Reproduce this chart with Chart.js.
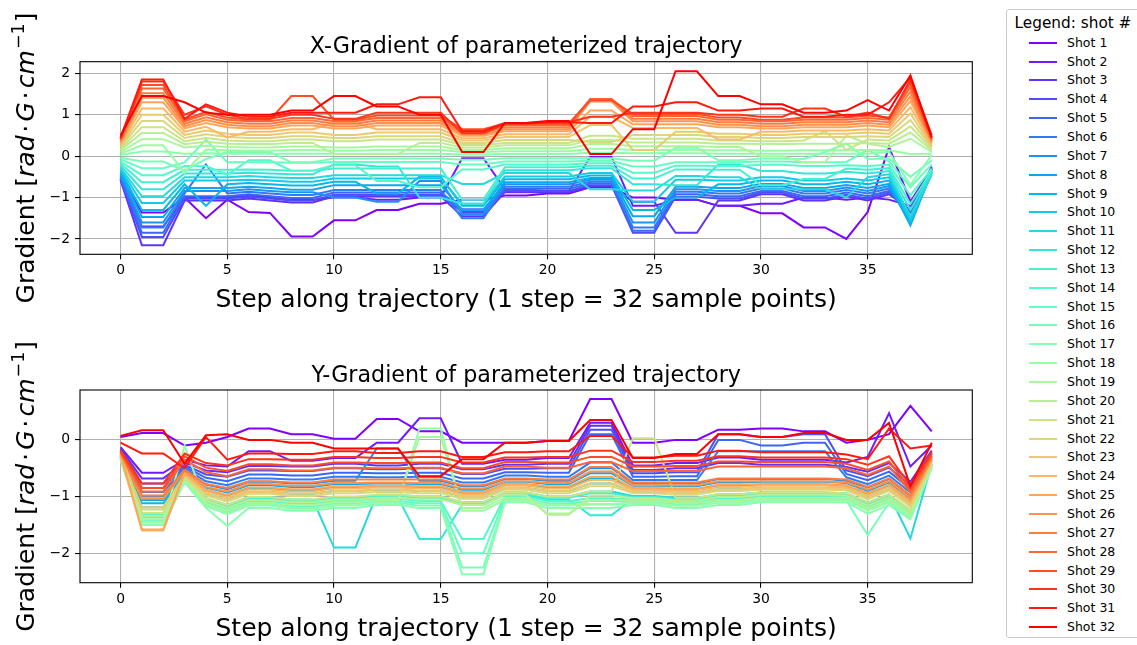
<!DOCTYPE html>
<html>
<head>
<meta charset="utf-8">
<script src="https://cdn.jsdelivr.net/npm/chart.js@4.4.1/dist/chart.umd.min.js"></script>
<style>
  html, body { margin: 0; padding: 0; background: #fff; }
  body { width: 1137px; height: 645px; position: relative; overflow: hidden; font-family: "DejaVu Sans", sans-serif; }
  canvas.plot { position: absolute; left: 0; }
  #legendBox { position: absolute; left: 1006px; top: 9px; width: 134px; height: 629px; box-sizing: border-box;
    border: 1px solid #cccccc; border-radius: 3px; background: #fff; }
  .lgTitle { position: absolute; left: 1006px; width: 134px; top: 13px; height: 20px; line-height: 20px;
    text-align: center; font-size: 15.3px; color: #000; white-space: nowrap; }
  .lgLine { position: absolute; left: 1029px; width: 28px; height: 2px; }
  .lgText { position: absolute; left: 1067px; height: 14px; line-height: 14px; font-size: 12.5px; color: #000; white-space: nowrap; }
</style>
</head>
<body>
<canvas id="gx" class="plot" width="1000" height="322" style="top:0px"></canvas>
<canvas id="gy" class="plot" width="1000" height="323" style="top:322px"></canvas>
<div id="legendBox"></div>
<div id="legend"></div>
<script>
// step index along the trajectory
const steps = [0, 1, 2, 3, 4, 5, 6, 7, 8, 9, 10, 11, 12, 13, 14, 15, 16, 17, 18, 19,
  20, 21, 22, 23, 24, 25, 26, 27, 28, 29, 30, 31, 32, 33, 34, 35, 36, 37, 38]

const shotLabels = ['Shot 1', 'Shot 2', 'Shot 3', 'Shot 4', 'Shot 5', 'Shot 6', 'Shot 7', 'Shot 8',
  'Shot 9', 'Shot 10', 'Shot 11', 'Shot 12', 'Shot 13', 'Shot 14', 'Shot 15', 'Shot 16',
  'Shot 17', 'Shot 18', 'Shot 19', 'Shot 20', 'Shot 21', 'Shot 22', 'Shot 23', 'Shot 24',
  'Shot 25', 'Shot 26', 'Shot 27', 'Shot 28', 'Shot 29', 'Shot 30', 'Shot 31', 'Shot 32']

const xTicks = [0, 5, 10, 15, 20, 25, 30, 35]
const gxTicks = [-2, -1, 0, 1, 2]
const gyTicks = [-2, -1, 0]

// X-gradient, one array per shot
const gx01 = [-0.5, -1.36, -1.36, -1.0, -1.5, -1.05, -1.35, -1.37, -1.94, -1.94, -1.55, -1.55, -1.3, -1.3, -1.15, -1.15, -1.05, -1.05, -0.95, -0.95, -0.9, -0.9, -0.75, -0.75, -1.0, -1.0, -1.05, -1.05, -1.2, -1.2, -1.38, -1.38, -1.72, -1.72, -2.0, -1.35, 0.22, -1.1, -0.3]
const gx02 = [-0.55, -1.7, -1.7, -1.0, -1.0, -1.0, -0.95, -1.0, -1.05, -1.05, -1.0, -1.0, -1.05, -1.05, -1.0, -1.0, -0.05, -0.05, -0.8, -0.8, -0.85, -0.85, -0.02, -0.02, -1.2, -1.2, -1.05, -1.05, -1.2, -1.2, -1.15, -1.15, -1.0, -1.0, -1.05, -1.0, -1.05, -1.2, -0.3]
const gx03 = [-0.58, -2.15, -2.15, -1.07, -1.07, -1.07, -1.02, -1.07, -1.12, -1.12, -0.97, -0.97, -0.97, -0.97, -0.97, -0.97, -1.45, -1.45, -0.87, -0.87, -0.87, -0.87, -0.73, -0.73, -1.1, -1.1, -1.85, -1.85, -1.07, -1.07, -0.92, -0.92, -1.07, -1.07, -0.97, -1.07, -0.92, -1.3, -0.25]
const gx04 = [-0.56, -1.95, -1.95, -1.02, -1.02, -1.02, -0.98, -1.02, -1.07, -1.07, -0.93, -0.93, -0.93, -0.93, -0.93, -0.93, -1.35, -1.35, -0.84, -0.84, -0.84, -0.84, -0.7, -0.7, -1.85, -1.85, -0.98, -0.98, -1.02, -1.02, -0.88, -0.88, -1.02, -1.02, -0.93, -1.02, -0.88, -1.35, -0.28]
const gx05 = [-0.53, -1.85, -1.85, -0.97, -0.97, -0.97, -0.92, -0.97, -1.01, -1.01, -0.88, -0.88, -0.88, -0.88, -0.88, -0.88, -1.28, -1.28, -0.79, -0.79, -0.79, -0.79, -0.66, -0.66, -1.8, -1.8, -0.92, -0.92, -0.97, -0.97, -0.84, -0.84, -0.97, -0.97, -0.88, -0.97, -0.84, -1.45, -0.3]
const gx06 = [-0.49, -1.72, -1.72, -0.9, -0.2, -0.9, -0.86, -0.9, -0.94, -0.94, -0.82, -0.82, -0.82, -0.82, -0.82, -0.82, -1.5, -1.5, -0.74, -0.74, -0.74, -0.74, -0.62, -0.62, -1.72, -1.72, -0.86, -0.86, -0.9, -0.9, -0.78, -0.78, -0.9, -0.9, -0.82, -0.9, -0.78, -1.55, -0.33]
const gx07 = [-0.46, -1.6, -1.6, -0.84, -0.84, -0.84, -0.8, -0.84, -0.87, -0.87, -1.0, -1.0, -1.1, -1.1, -0.6, -0.6, -1.4, -1.4, -0.68, -0.68, -0.68, -0.68, -0.57, -0.57, -1.6, -1.6, -0.8, -0.8, -0.84, -0.84, -0.72, -0.72, -0.84, -0.84, -0.76, -0.84, -0.72, -1.6, -0.35]
const gx08 = [-0.42, -1.47, -1.47, -0.77, -0.77, -0.77, -0.74, -0.77, -0.81, -0.81, -0.7, -0.7, -0.7, -0.7, -0.7, -0.7, -1.3, -1.3, -0.63, -0.63, -0.63, -0.63, -0.53, -0.53, -1.45, -1.45, -0.74, -0.74, -0.77, -0.77, -0.67, -0.67, -0.77, -0.77, -0.7, -0.77, -0.67, -1.67, -0.38]
const gx09 = [-0.37, -1.3, -1.3, -0.68, -1.2, -0.68, -0.65, -0.68, -0.71, -0.71, -0.62, -0.62, -0.9, -0.9, -0.5, -0.5, -1.2, -1.2, -0.56, -0.56, -0.56, -0.56, -0.47, -0.47, -1.3, -1.3, -1.0, -1.0, -0.68, -0.68, -0.59, -0.59, -0.68, -0.68, -0.62, -0.68, -0.59, -1.62, -0.4]
const gx10 = [-0.32, -1.13, -1.13, -0.59, -0.59, -0.59, -0.57, -0.59, -0.62, -0.62, -0.54, -0.54, -0.54, -0.54, -0.54, -0.54, -1.15, -1.15, -0.49, -0.49, -0.49, -0.49, -0.41, -0.41, -1.1, -1.1, -0.57, -0.57, -0.59, -0.59, -0.51, -0.51, -0.59, -0.59, -0.54, -0.59, -0.51, -1.55, -0.42]
const gx11 = [-0.28, -0.97, -0.97, -0.51, -0.51, -0.51, -0.48, -0.51, -0.53, -0.53, -0.46, -0.46, -0.46, -0.46, -0.46, -0.46, -0.67, -0.67, -0.41, -0.41, -0.41, -0.41, -0.8, -0.8, -0.83, -0.83, -0.48, -0.48, -0.51, -0.51, -0.8, -0.8, -0.8, -0.8, -1.0, -0.51, -0.44, -1.45, -0.45]
const gx12 = [-0.23, -0.8, -0.8, -0.42, -0.42, -0.42, -0.4, -0.42, -0.44, -0.44, -0.2, -0.2, -0.25, -0.25, -1.0, -1.0, -1.15, -1.15, -0.34, -0.34, -0.34, -0.34, -0.29, -0.29, -0.68, -0.68, -0.7, -0.7, -0.2, -0.2, -0.36, -0.36, -0.42, -0.42, -0.38, -0.42, -0.36, -1.3, -0.4]
const gx13 = [-0.18, -0.63, -0.63, -0.33, -0.33, -0.33, -0.32, -0.33, -0.35, -0.35, -0.3, -0.3, -0.3, -0.3, -0.3, -0.3, -1.05, -1.05, -0.27, -0.27, -0.27, -0.27, -0.23, -0.23, -0.54, -0.54, -0.32, -0.32, -0.33, -0.33, -0.7, -0.7, -0.55, -0.55, -0.3, -0.33, -0.29, -1.15, -0.35]
const gx14 = [-0.13, -0.46, -0.46, -0.24, -0.24, -0.45, -0.1, -0.1, -0.35, -0.35, -0.22, -0.22, -0.6, -0.6, -0.75, -0.75, -0.32, -0.32, -0.2, -0.2, -0.2, -0.2, -0.17, -0.17, -0.4, -0.4, -0.23, -0.23, -0.24, -0.24, -0.21, -0.21, -0.24, -0.24, -0.22, -0.24, -0.21, -0.95, -0.3]
const gx15 = [-0.08, -0.29, -0.29, -0.15, 0.4, -0.15, -0.15, -0.15, -0.16, -0.16, -0.14, -0.14, -0.14, -0.14, -0.14, -0.14, -0.2, -0.2, -0.13, -0.13, -0.13, -0.13, -0.11, -0.11, -0.25, -0.25, -0.15, -0.15, -0.15, -0.15, -0.13, -0.13, -0.15, -0.15, -0.14, 0.15, -0.13, -0.75, -0.2]
const gx16 = [-0.04, -0.13, -0.13, -0.35, -0.07, 0.1, 0.1, 0.1, -0.15, -0.15, -0.06, -0.06, -0.06, -0.06, -0.06, -0.06, -0.09, -0.09, -0.05, -0.05, -0.05, -0.05, -0.05, -0.05, -0.11, -0.11, 0.2, 0.2, -0.1, -0.1, -0.06, -0.06, -0.07, 0.1, 0.3, -0.07, -0.06, -0.5, -0.1]
const gx17 = [0.03, 0.11, 0.11, 0.06, 0.07, 0.06, 0.06, 0.06, 0.06, 0.06, 0.06, 0.06, 0.06, 0.06, 0.06, 0.06, 0.04, 0.04, 0.05, 0.05, 0.05, 0.05, 0.08, 0.08, 0.07, 0.07, 0.07, 0.07, 0.06, 0.06, 0.06, 0.06, 0.06, 0.06, 0.06, 0.06, 0.1, -0.7, 0.03]
const gx18 = [0.06, 0.26, 0.26, -0.4, 0.16, 0.14, 0.13, 0.13, 0.15, 0.15, 0.13, 0.13, 0.15, 0.15, 0.15, 0.15, 0.1, 0.1, 0.12, 0.12, 0.12, 0.12, 0.18, 0.18, 0.15, 0.15, 0.15, 0.15, 0.14, 0.14, 0.13, 0.13, 0.14, 0.14, 0.14, 0.15, 0.14, 0.05, 0.06]
const gx19 = [0.1, 0.41, 0.41, 0.21, 0.25, 0.22, 0.21, 0.21, 0.23, 0.23, 0.21, 0.21, 0.23, 0.23, 0.23, 0.23, 0.15, 0.15, 0.19, 0.19, 0.19, 0.19, 0.29, 0.29, 0.24, 0.24, 0.24, 0.24, 0.22, 0.22, 0.0, 0.0, -0.15, -0.15, 0.5, 0.3, 0.22, 0.42, 0.1]
const gx20 = [0.14, 0.56, 0.56, 0.29, 0.35, 0.3, 0.29, 0.29, 0.32, 0.32, 0.05, 0.05, 0.05, 0.05, 0.32, 0.32, 0.21, 0.21, 0.26, 0.26, 0.26, 0.26, 0.39, 0.39, 0.33, 0.33, 0.33, 0.33, 0.3, 0.3, 0.29, 0.29, 0.3, 0.3, 0.3, 0.32, 0.3, 0.57, 0.14]
const gx21 = [0.17, 0.7, 0.7, 0.36, 0.44, 0.38, 0.36, 0.36, 0.4, 0.4, 0.36, 0.36, 0.4, 0.4, 0.4, 0.4, 0.27, 0.27, 0.32, 0.32, 0.32, 0.32, 0.49, 0.49, 0.42, 0.42, 0.42, 0.42, 0.38, 0.38, 0.36, 0.36, 0.38, 0.6, 0.15, 0.4, 0.38, 0.72, 0.17]
const gx22 = [0.21, 0.85, 0.85, 0.44, 0.53, 0.46, 0.44, 0.44, 0.48, 0.48, 0.44, 0.44, 0.48, 0.48, 0.48, 0.48, 0.32, 0.32, 0.39, 0.39, 0.39, 0.39, 0.34, 0.34, 0.51, 0.51, 0.51, 0.51, 0.46, 0.46, 0.44, 0.44, 0.46, 0.46, 0.46, 0.48, 0.46, 0.87, 0.21]
const gx23 = [0.24, 1.0, 1.0, 0.51, 0.62, 0.54, 0.51, 0.51, 0.57, 0.57, 0.51, 0.51, 0.57, 0.57, 0.57, 0.57, 0.38, 0.38, 0.46, 0.46, 0.46, 0.46, 0.75, 0.75, 0.15, 0.15, 0.59, 0.59, 0.54, 0.54, 0.51, 0.51, 0.54, 0.54, 0.54, 0.57, 0.54, 1.03, 0.24]
const gx24 = [0.28, 1.15, 1.15, 0.59, 0.71, 0.45, 0.59, 0.59, 0.65, 0.65, 0.8, 0.8, 0.65, 0.65, 0.65, 0.65, 0.43, 0.43, 0.53, 0.53, 0.53, 0.53, 0.95, 0.95, 0.68, 0.68, 0.68, 0.68, 0.4, 0.4, 0.59, 0.59, 0.62, 0.62, 0.62, 0.65, 0.62, 1.18, 0.28]
const gx25 = [0.32, 1.3, 1.3, 0.67, 0.8, 0.7, 0.67, 0.67, 0.74, 0.74, 0.67, 0.67, 0.74, 0.74, 0.74, 0.74, 0.49, 0.49, 0.6, 0.6, 0.6, 0.6, 1.1, 1.1, 0.77, 0.77, 0.77, 0.77, 0.7, 0.7, 0.67, 0.67, 0.7, 0.7, 0.7, 0.74, 0.7, 1.33, 0.32]
const gx26 = [0.34, 1.41, 1.41, 0.72, 0.87, 0.76, 0.72, 0.72, 0.8, 0.8, 0.72, 0.72, 0.8, 0.8, 0.8, 0.8, 0.53, 0.53, 0.65, 0.65, 0.65, 0.65, 1.32, 1.32, 0.84, 0.84, 0.84, 0.84, 0.76, 0.76, 0.72, 0.72, 0.76, 0.76, 0.76, 0.8, 0.76, 1.44, 0.34]
const gx27 = [0.37, 1.52, 1.52, 0.78, 0.94, 0.82, 0.78, 0.78, 0.86, 0.86, 0.78, 0.78, 0.86, 0.86, 0.86, 0.86, 0.57, 0.57, 0.7, 0.7, 0.7, 0.7, 1.36, 1.36, 0.9, 0.9, 0.9, 0.9, 0.82, 0.82, 0.78, 0.78, 0.82, 0.82, 0.82, 0.86, 0.82, 1.56, 0.37]
const gx28 = [0.4, 1.63, 1.63, 0.84, 1.01, 0.88, 0.84, 0.84, 0.92, 0.92, 0.84, 0.84, 0.92, 0.92, 0.92, 0.92, 0.62, 0.62, 0.75, 0.75, 0.75, 0.75, 1.38, 1.38, 0.97, 0.97, 0.97, 0.97, 0.88, 0.88, 0.84, 0.84, 0.88, 0.88, 0.88, 0.92, 0.88, 1.67, 0.4]
const gx29 = [0.42, 1.72, 1.72, 0.88, 1.07, 0.93, 0.88, 0.88, 1.45, 1.45, 0.88, 0.88, 0.98, 0.98, 0.98, 0.98, 0.65, 0.65, 0.79, 0.79, 0.79, 0.79, 1.35, 1.35, 1.02, 1.02, 1.02, 1.02, 0.93, 0.93, 0.88, 0.88, 0.93, 0.93, 0.93, 0.98, 0.93, 1.77, 0.42]
const gx30 = [0.42, 1.8, 1.8, 1.0, 1.2, 1.0, 0.9, 0.9, 1.0, 1.0, 0.9, 0.9, 1.05, 1.05, 1.05, 1.05, 0.55, 0.55, 0.78, 0.78, 0.82, 0.82, 0.95, 0.95, 1.05, 1.05, 1.05, 1.05, 1.0, 1.0, 0.95, 0.95, 1.15, 1.15, 0.95, 1.05, 0.9, 1.85, 0.45]
const gx31 = [0.45, 1.85, 1.85, 0.9, 1.25, 1.05, 0.95, 0.95, 1.05, 1.05, 1.05, 1.05, 1.25, 1.25, 1.42, 1.42, 0.6, 0.6, 0.8, 0.8, 0.82, 0.82, 0.8, 0.8, 1.2, 1.2, 1.3, 1.3, 1.1, 1.1, 1.15, 1.15, 0.95, 0.95, 1.0, 1.0, 1.3, 1.9, 0.5]
const gx32 = [0.5, 1.45, 1.45, 1.3, 1.05, 1.0, 1.0, 1.0, 1.1, 1.1, 1.45, 1.45, 1.2, 1.2, 1.0, 1.0, 0.1, 0.1, 0.8, 0.8, 0.85, 0.85, 0.05, 0.05, 0.65, 0.65, 2.05, 2.05, 1.45, 1.45, 1.25, 1.25, 1.05, 1.05, 1.1, 1.35, 1.1, 1.95, 0.45]

// Y-gradient, one array per shot
const gy01 = [0.05, 0.12, 0.12, -0.1, -0.05, 0.05, 0.2, 0.2, 0.1, 0.1, 0.02, 0.02, 0.37, 0.37, 0.15, 0.15, -0.05, -0.05, -0.05, -0.05, -0.02, -0.02, 0.72, 0.72, -0.05, -0.05, 0.0, 0.0, 0.18, 0.18, 0.2, 0.2, 0.15, 0.15, -0.05, 0.0, 0.1, 0.6, 0.15]
const gy02 = [-0.13, -0.58, -0.58, -0.35, -0.45, -0.47, -0.2, -0.2, -0.37, -0.37, -0.32, -0.32, -0.05, -0.05, 0.38, 0.38, -0.42, -0.42, -0.35, -0.35, -0.32, -0.32, 0.3, 0.3, -0.45, -0.45, -0.41, -0.41, -0.31, -0.31, -0.35, -0.35, -0.35, -0.35, -0.4, -0.3, 0.47, -0.47, -0.1]
const gy03 = [-0.16, -0.68, -0.68, -0.4, -0.54, -0.57, -0.46, -0.46, -0.47, -0.47, -0.42, -0.42, -0.45, -0.45, -0.42, -0.42, -0.52, -0.52, -0.44, -0.44, -0.42, -0.42, 0.25, 0.25, -0.53, -0.53, -0.5, -0.5, -0.41, -0.41, -0.44, -0.44, -0.44, -0.44, -0.48, -0.56, -0.41, -0.74, -0.19]
const gy04 = [-0.18, -0.77, -0.77, -0.44, -0.61, -0.65, -0.54, -0.54, -0.55, -0.55, -0.5, -0.5, -0.52, -0.52, -0.5, -0.5, -0.6, -0.6, -0.51, -0.51, -0.5, -0.5, 0.18, 0.18, -0.59, -0.59, -0.57, -0.57, 0.1, 0.1, 0.05, 0.05, 0.1, 0.1, -0.54, -0.64, -0.49, -0.81, -0.22]
const gy05 = [-0.2, -0.85, -0.85, -0.47, -0.67, -0.73, -0.61, -0.61, -0.63, -0.63, -0.58, -0.58, -0.59, -0.59, -0.58, -0.58, -0.68, -0.68, -0.57, -0.57, -0.58, -0.58, 0.1, 0.1, -0.65, -0.65, -0.64, -0.64, 0.0, 0.0, -0.1, -0.1, -0.05, -0.05, -0.6, -0.71, -0.56, -0.87, -0.25]
const gy06 = [-0.21, -0.92, -0.92, -0.5, -0.73, -0.8, -0.68, -0.68, -0.7, -0.7, -0.65, -0.65, -0.66, -0.66, -0.65, -0.65, -0.75, -0.75, -0.63, -0.63, -0.65, -0.65, -0.4, -0.4, -0.71, -0.71, -0.71, -0.71, -0.2, -0.2, -0.2, -0.2, -0.2, -0.2, -0.66, -0.78, -0.63, -0.93, -0.28]
const gy07 = [-0.23, -1.0, -1.0, -0.53, -0.79, -0.87, -0.74, -0.74, -0.77, -0.77, -0.72, -0.72, -0.15, -0.15, -0.72, -0.72, -0.82, -0.82, -0.69, -0.69, -0.72, -0.72, -0.5, -0.5, -0.77, -0.77, -0.77, -0.77, -0.69, -0.69, -0.69, -0.69, -0.69, -0.69, -0.72, -0.84, -0.69, -0.99, -0.31]
const gy08 = [-0.25, -1.06, -1.06, -0.56, -0.84, -0.93, -0.8, -0.8, -0.83, -0.83, -0.78, -0.78, -0.77, -0.77, -0.78, -0.78, -0.88, -0.88, -0.74, -0.74, -0.78, -0.78, -0.59, -0.59, -0.81, -0.81, -0.82, -0.82, -0.75, -0.75, -0.74, -0.74, -0.74, -0.74, -0.76, -0.9, -0.75, -1.04, -0.33]
const gy09 = [-0.26, -1.12, -1.12, -0.59, -0.89, -0.99, -0.86, -0.86, -0.89, -0.89, -0.84, -0.84, -0.83, -0.83, -0.84, -0.84, -0.94, -0.94, -0.79, -0.79, -0.84, -0.84, -0.68, -0.68, -0.86, -0.86, -0.88, -0.88, -0.81, -0.81, -0.79, -0.79, -0.79, -0.79, -0.81, -0.96, -0.81, -1.09, -0.36]
const gy10 = [-0.28, -1.19, -1.19, -0.62, -0.95, -1.05, -0.92, -0.92, -0.95, -0.95, -0.9, -0.9, -0.88, -0.88, -0.9, -0.9, -1.0, -1.0, -0.85, -0.85, -0.9, -0.9, -0.77, -0.77, -0.91, -0.91, -0.93, -0.93, -0.87, -0.87, -0.85, -0.85, -0.85, -0.85, -0.86, -1.02, -0.87, -1.15, -0.38]
const gy11 = [-0.3, -1.29, -1.29, -0.66, -1.03, -1.15, -1.01, -1.01, -1.05, -1.05, -1.9, -1.9, -0.97, -0.97, -1.0, -1.0, -1.1, -1.1, -0.93, -0.93, -1.0, -1.0, -0.91, -0.91, -0.99, -0.99, -1.02, -1.02, -0.96, -0.96, -0.93, -0.93, -0.93, -0.93, -0.94, -1.11, -0.96, -1.74, -0.42]
const gy12 = [-0.31, -1.34, -1.34, -0.68, -1.07, -1.2, -1.06, -1.06, -1.1, -1.1, -1.05, -1.05, -1.02, -1.02, -1.75, -1.75, -1.15, -1.15, -0.97, -0.97, -1.05, -1.05, -1.33, -1.33, -1.03, -1.03, -1.07, -1.07, -1.01, -1.01, -0.97, -0.97, -0.97, -0.97, -0.98, -1.16, -1.01, -1.27, -0.44]
const gy13 = [-0.31, -1.31, -1.31, -0.67, -1.05, -1.17, -1.03, -1.03, -1.07, -1.07, -1.02, -1.02, -0.99, -0.99, -1.02, -1.02, -1.12, -1.12, -0.95, -0.95, -1.02, -1.02, -0.94, -0.94, -1.01, -1.01, -1.04, -1.04, -0.98, -0.98, -0.95, -0.95, -0.95, -0.95, -0.96, -1.13, -0.98, -1.25, -0.43]
const gy14 = [-0.32, -1.37, -1.37, -0.7, -1.1, -1.23, -1.09, -1.09, -1.13, -1.13, -1.08, -1.08, -1.04, -1.04, -1.08, -1.08, -1.75, -1.75, -1.0, -1.0, -1.08, -1.08, -1.03, -1.03, -1.05, -1.05, -1.09, -1.09, -1.04, -1.04, -1.0, -1.0, -1.0, -1.0, -1.0, -1.19, -1.04, -1.3, -0.45]
const gy15 = [-0.33, -1.42, -1.42, -0.71, -1.13, -1.27, -1.12, -1.12, -1.17, -1.17, -1.12, -1.12, -1.08, -1.08, -1.12, -1.12, -2.0, -2.0, -1.03, -1.03, -1.12, -1.12, -1.08, -1.08, -1.09, -1.09, -1.13, -1.13, -1.07, -1.07, -1.03, -1.03, -1.03, -1.03, -1.04, -1.22, -1.07, -1.33, -0.47]
const gy16 = [-0.34, -1.46, -1.46, -0.73, -1.17, -1.31, -1.16, -1.16, -1.21, -1.21, -1.16, -1.16, -1.11, -1.11, -1.16, -1.16, -2.25, -2.25, -1.07, -1.07, -1.16, -1.16, -1.14, -1.14, -1.12, -1.12, -1.16, -1.16, -1.11, -1.11, -1.07, -1.07, -1.07, -1.07, -1.07, -1.68, -1.11, -1.37, -0.48]
const gy17 = [-0.35, -1.5, -1.5, -0.75, -1.2, -1.52, -1.2, -1.2, -1.25, -1.25, -1.2, -1.2, -1.15, -1.15, -1.2, -1.2, -2.37, -2.37, -1.1, -1.1, -1.2, -1.2, -1.2, -1.2, -1.15, -1.15, -1.2, -1.2, -1.15, -1.15, -1.1, -1.1, -1.1, -1.1, -1.1, -1.3, -1.15, -1.4, -0.5]
const gy18 = [-0.34, -1.45, -1.45, -0.1, -1.16, -1.3, -1.15, -1.15, -1.2, -1.2, -1.15, -1.15, -1.11, -1.11, 0.2, 0.2, -1.25, -1.25, -1.06, -1.06, -1.15, -1.15, -1.13, -1.13, -1.11, -1.11, -1.16, -1.16, -1.1, -1.1, -1.06, -1.06, -1.06, -1.06, -1.06, -1.25, -1.1, -1.36, -0.48]
const gy19 = [-0.33, -1.4, -1.4, -0.71, -1.12, -1.25, -1.11, -1.11, -1.15, -1.15, -1.1, -1.1, -1.06, -1.06, 0.05, 0.05, -1.2, -1.2, -1.02, -1.02, -1.3, -1.3, -1.06, -1.06, -1.07, -1.07, -1.11, -1.11, -1.06, -1.06, -1.02, -1.02, -1.02, -1.02, -1.02, -1.21, -1.06, -1.32, -0.46]
const gy20 = [-0.31, -1.34, -1.34, -0.68, -1.07, -1.2, -1.06, -1.06, -1.1, -1.1, -1.05, -1.05, -1.02, -1.02, -1.05, -1.05, -1.15, -1.15, -0.97, -0.97, -1.32, -1.32, -0.98, -0.98, -1.03, -1.03, -1.07, -1.07, -1.01, -1.01, -0.97, -0.97, -0.97, -0.97, -0.98, -1.16, -1.01, -1.27, -0.44]
const gy21 = [-0.3, -1.29, -1.29, -0.66, -1.03, -1.15, -1.01, -1.01, -1.05, -1.05, -1.0, -1.0, -0.97, -0.97, -1.0, -1.0, -1.1, -1.1, -0.93, -0.93, -1.0, -1.0, -0.91, -0.91, 0.03, 0.03, -1.02, -1.02, -0.96, -0.96, -0.93, -0.93, -0.93, -0.93, -0.94, -1.11, -0.96, -1.23, -0.42]
const gy22 = [-0.29, -1.23, -1.23, -0.63, -0.98, -1.09, -0.95, -0.95, -0.99, -0.99, -0.94, -0.94, -0.92, -0.92, -0.94, -0.94, -1.04, -1.04, -0.88, -0.88, -0.94, -0.94, -0.82, -0.82, -0.94, -0.94, -0.97, -0.97, -0.9, -0.9, -0.88, -0.88, -0.88, -0.88, -0.89, -1.05, -0.9, -1.18, -0.4]
const gy23 = [-0.28, -1.19, -1.19, -0.62, -0.95, -1.05, -0.92, -0.92, -0.95, -0.95, -0.9, -0.9, -0.88, -0.88, -0.9, -0.9, -1.0, -1.0, -0.85, -0.85, -0.9, -0.9, -0.77, -0.77, -0.91, -0.91, -0.93, -0.93, -0.87, -0.87, -0.85, -0.85, -0.85, -0.85, -0.86, -1.02, -0.87, -1.15, -0.38]
const gy24 = [-0.27, -1.6, -1.6, -0.6, -0.91, -1.01, -0.88, -0.88, -0.91, -0.91, -0.86, -0.86, -0.84, -0.84, -0.86, -0.86, -0.96, -0.96, -0.81, -0.81, -0.86, -0.86, -0.71, -0.71, -0.88, -0.88, -0.89, -0.89, -0.83, -0.83, -0.81, -0.81, -0.81, -0.81, -0.83, -0.98, -0.83, -1.11, -0.36]
const gy25 = [-0.26, -1.58, -1.58, -0.58, -0.88, -0.97, -0.84, -0.84, -0.87, -0.87, -0.82, -0.82, -0.81, -0.81, -0.82, -0.82, -0.92, -0.92, -0.78, -0.78, -0.82, -0.82, -0.65, -0.65, -0.85, -0.85, -0.86, -0.86, -0.79, -0.79, -0.78, -0.78, -0.78, -0.78, -0.8, -0.94, -0.79, -1.08, -0.35]
const gy26 = [-0.24, -1.04, -1.04, -0.55, -0.83, -0.91, -0.78, -0.78, -0.81, -0.81, -0.76, -0.76, -0.75, -0.75, -0.76, -0.76, -0.86, -0.86, -0.73, -0.73, -0.76, -0.76, -0.56, -0.56, -0.8, -0.8, -0.8, -0.8, -0.73, -0.73, -0.73, -0.73, -0.73, -0.73, -0.75, -0.88, -0.73, -1.03, -0.32]
const gy27 = [-0.23, -0.98, -0.98, -0.53, -0.78, -0.85, -0.73, -0.73, -0.75, -0.75, -0.7, -0.7, -0.7, -0.7, -0.7, -0.7, -0.8, -0.8, -0.68, -0.68, -0.7, -0.7, -0.48, -0.48, -0.75, -0.75, -0.75, -0.75, -0.68, -0.68, -0.68, -0.68, -0.68, -0.68, -0.7, -0.83, -0.68, -0.98, -0.3]
const gy28 = [-0.21, -0.91, -0.91, -0.35, -0.57, -0.64, -0.52, -0.52, -0.54, -0.54, -0.49, -0.49, -0.5, -0.5, -0.49, -0.49, -0.59, -0.59, -0.47, -0.47, -0.49, -0.49, -0.39, -0.39, -0.55, -0.55, -0.55, -0.55, -0.47, -0.47, -0.47, -0.47, -0.47, -0.47, -0.5, -0.62, -0.47, -0.92, -0.28]
const gy29 = [-0.2, -0.85, -0.85, -0.29, -0.49, -0.55, -0.43, -0.43, -0.45, -0.45, -0.4, -0.4, -0.41, -0.41, -0.4, -0.4, -0.5, -0.5, -0.39, -0.39, -0.4, -0.4, -0.3, -0.3, -0.47, -0.47, -0.46, -0.46, -0.38, -0.38, -0.39, -0.39, -0.39, -0.39, -0.42, -0.53, -0.38, -0.87, -0.25]
const gy30 = [-0.18, -0.77, -0.77, -0.24, -0.41, -0.45, -0.34, -0.34, -0.35, -0.35, -0.3, -0.3, -0.32, -0.32, -0.3, -0.3, -0.4, -0.4, -0.31, -0.31, -0.3, -0.3, -0.19, -0.19, -0.39, -0.39, -0.37, -0.37, -0.29, -0.29, -0.31, -0.31, -0.31, -0.31, -0.34, -0.44, -0.29, -0.81, -0.22]
const gy31 = [-0.05, -0.24, -0.24, -0.5, 0.05, -0.35, -0.24, -0.24, -0.25, -0.25, -0.2, -0.2, -0.23, -0.23, -0.2, -0.2, -0.3, -0.3, -0.22, -0.22, -0.2, -0.2, 0.07, 0.07, -0.31, -0.31, -0.28, -0.28, -0.19, -0.19, -0.22, -0.22, -0.22, -0.22, -0.26, -0.34, 0.2, -0.15, -0.1]
const gy32 = [0.07, 0.17, 0.17, -0.42, 0.08, 0.1, 0.0, 0.0, -0.05, -0.05, -0.15, -0.15, -0.15, -0.15, -0.64, -0.64, -0.34, -0.34, -0.05, -0.05, -0.02, -0.02, 0.35, 0.35, -0.32, -0.32, -0.25, -0.25, 0.1, 0.1, 0.05, 0.05, 0.12, 0.12, 0.0, 0.0, 0.3, -0.82, -0.05]

const xSeries = [gx01, gx02, gx03, gx04, gx05, gx06, gx07, gx08, gx09, gx10, gx11, gx12, gx13, gx14, gx15, gx16,
  gx17, gx18, gx19, gx20, gx21, gx22, gx23, gx24, gx25, gx26, gx27, gx28, gx29, gx30, gx31, gx32]
const ySeries = [gy01, gy02, gy03, gy04, gy05, gy06, gy07, gy08, gy09, gy10, gy11, gy12, gy13, gy14, gy15, gy16,
  gy17, gy18, gy19, gy20, gy21, gy22, gy23, gy24, gy25, gy26, gy27, gy28, gy29, gy30, gy31, gy32]

// matplotlib 'rainbow' colormap
function rainbow (x) {
  const r = Math.min(1, Math.abs(2 * x - 0.5))
  const g = Math.max(0, Math.sin(Math.PI * x))
  const b = Math.max(0, Math.cos(Math.PI * x / 2))
  return `rgb(${Math.round(r * 255)},${Math.round(g * 255)},${Math.round(b * 255)})`
}
const shotColors = shotLabels.map((_, i) => rainbow(i / (shotLabels.length - 1)))

const FONT = '"DejaVu Sans", sans-serif'
const minus = v => (v < 0 ? '\u2212' + Math.abs(v) : String(v))

// frame, title and axis labels drawn on the chart canvas
const decor = {
  id: 'decor',
  afterDatasetsDraw (chart) {
    const { ctx, chartArea: a } = chart
    ctx.save()
    ctx.strokeStyle = '#000'
    ctx.lineWidth = 1.1
    ctx.strokeRect(a.left, a.top, a.right - a.left, a.bottom - a.top)
    ctx.restore()
  },
  afterDraw (chart, args, opts) {
    const { ctx, chartArea: a } = chart
    const cx = (a.left + a.right) / 2
    ctx.save()
    ctx.fillStyle = '#000'
    ctx.textAlign = 'center'
    ctx.textBaseline = 'alphabetic'
    ctx.font = `22.2px ${FONT}`
    ctx.fillText(opts.title, cx, a.top - 8.3)
    ctx.font = `25px ${FONT}`
    ctx.fillText(opts.xlabel, cx, a.bottom + 53)
    drawYLabel(ctx, 34, (a.top + a.bottom) / 2)
    ctx.restore()
  }
}

// "Gradient [rad·G·cm^-1]" with mathtext-like italics and superscript
function drawYLabel (ctx, baseX, cy) {
  const s = 25
  const reg = `${s}px ${FONT}`
  const ita = `italic ${s}px ${FONT}`
  const sup = `${(s * 0.7).toFixed(1)}px ${FONT}`
  const parts = [
    { t: 'Gradient [', f: reg },
    { t: 'rad', f: ita },
    { t: '\u22c5', f: reg, pl: 3, pr: 3 },
    { t: 'G', f: ita },
    { t: '\u22c5', f: reg, pl: 3, pr: 3 },
    { t: 'cm', f: ita },
    { t: '\u22121', f: sup, pl: 1, dy: -s * 0.42 },
    { t: ']', f: reg, pl: 1 }
  ]
  let total = 0
  for (const p of parts) {
    ctx.font = p.f
    p.w = ctx.measureText(p.t).width
    total += (p.pl || 0) + p.w + (p.pr || 0)
  }
  ctx.save()
  ctx.translate(baseX, cy)
  ctx.rotate(-Math.PI / 2)
  ctx.textAlign = 'left'
  ctx.textBaseline = 'alphabetic'
  let x = -total / 2
  for (const p of parts) {
    ctx.font = p.f
    x += p.pl || 0
    ctx.fillText(p.t, x, p.dy || 0)
    x += p.w + (p.pr || 0)
  }
  ctx.restore()
}

function makeChart (id, series, cfg) {
  const canvas = document.getElementById(id)
  const H = canvas.height
  const datasets = series.map((vals, i) => ({
    label: shotLabels[i],
    data: vals.map((v, j) => ({ x: steps[j], y: v })),
    borderColor: shotColors[i],
    backgroundColor: shotColors[i],
    borderWidth: 2,
    pointRadius: 0,
    tension: 0,
    fill: false,
    order: series.length - 1 - i
  }))
  return new Chart(canvas.getContext('2d'), {
    type: 'line',
    data: { datasets },
    plugins: [decor],
    options: {
      responsive: false,
      animation: false,
      events: [],
      layout: { padding: { top: cfg.top, right: 1000 - 972.3, left: 0, bottom: 0 } },
      plugins: {
        legend: { display: false },
        tooltip: { enabled: false },
        decor: { title: cfg.title, xlabel: 'Step along trajectory (1 step = 32 sample points)' }
      },
      scales: {
        x: {
          type: 'linear',
          min: -1.9,
          max: 39.9,
          afterFit: s => { s.height = H - cfg.bottom },
          afterBuildTicks: s => { s.ticks = xTicks.map(v => ({ value: v })) },
          border: { display: false },
          grid: { color: '#b0b0b0', lineWidth: 1.1, tickColor: '#000', tickLength: 5, tickWidth: 1.1 },
          ticks: { color: '#000', font: { family: FONT, size: 13.9 }, padding: 3, maxRotation: 0, callback: minus }
        },
        y: {
          min: cfg.ymin,
          max: cfg.ymax,
          afterFit: s => { s.width = 80 },
          afterBuildTicks: s => { s.ticks = cfg.yTicks.map(v => ({ value: v })) },
          border: { display: false },
          grid: { color: '#b0b0b0', lineWidth: 1.1, tickColor: '#000', tickLength: 5, tickWidth: 1.1 },
          ticks: { color: '#000', font: { family: FONT, size: 13.9 }, padding: 5, callback: minus }
        }
      }
    }
  })
}

makeChart('gx', xSeries, {
  title: 'X-Gradient of parameterized trajectory',
  top: 61.7, bottom: 254.3, ymin: -2.37, ymax: 2.28, yTicks: gxTicks
})
makeChart('gy', ySeries, {
  title: 'Y-Gradient of parameterized trajectory',
  top: 68, bottom: 260.7, ymin: -2.52, ymax: 0.88, yTicks: gyTicks
})

// legend panel on the right
const legend = document.getElementById('legend')
const title = document.createElement('div')
title.className = 'lgTitle'
title.textContent = 'Legend: shot #'
legend.appendChild(title)
shotLabels.forEach((name, i) => {
  const y = 42.7 + 18.85 * i
  const line = document.createElement('div')
  line.className = 'lgLine'
  line.style.top = (y - 1) + 'px'
  line.style.background = shotColors[i]
  legend.appendChild(line)
  const txt = document.createElement('div')
  txt.className = 'lgText'
  txt.style.top = (y - 7) + 'px'
  txt.textContent = name
  legend.appendChild(txt)
})
</script>
</body>
</html>
